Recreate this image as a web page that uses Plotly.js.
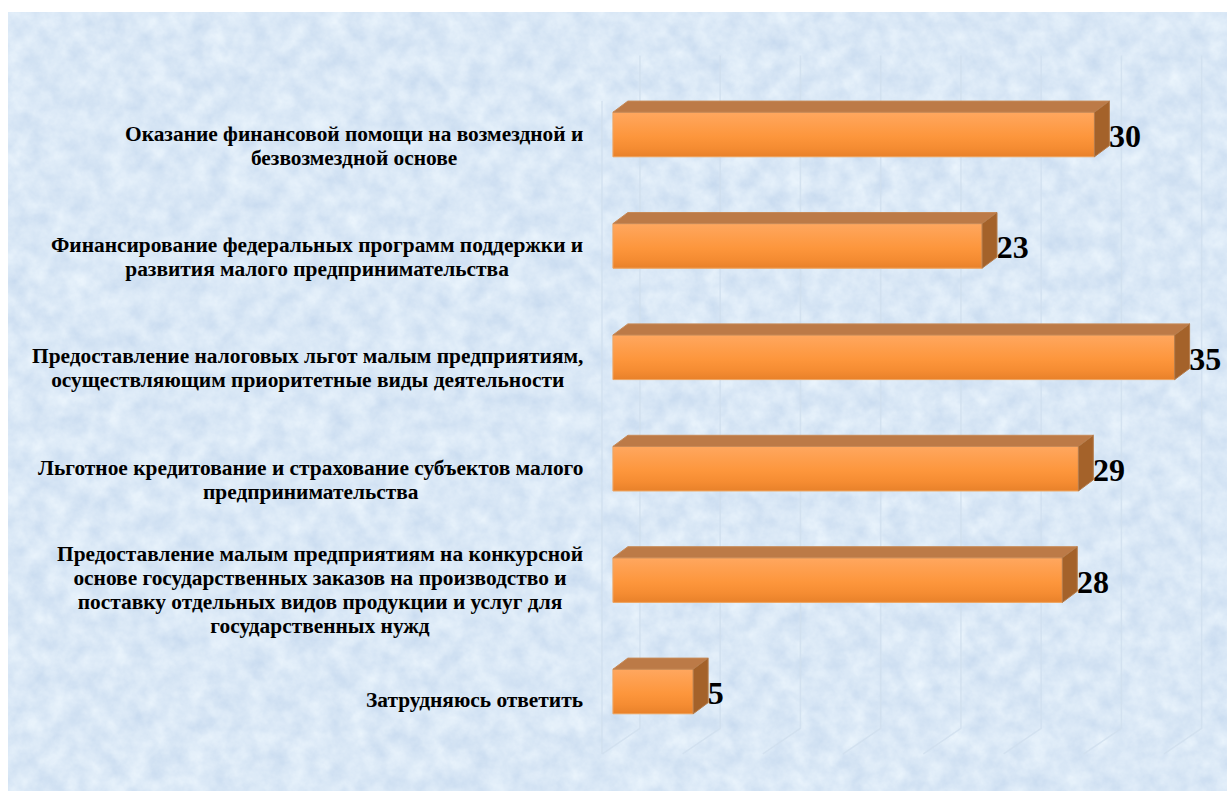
<!DOCTYPE html>
<html>
<head>
<meta charset="utf-8">
<script src="https://cdn.plot.ly/plotly-3.0.1.min.js"></script>
<style>
html,body{margin:0;padding:0;background:#fff;overflow:hidden}
#bg{position:absolute;left:8px;top:12px;width:1219px;height:779px}
#chart{position:absolute;left:0;top:0;width:1227px;height:791px}
</style>
</head>
<body>
<svg id="bg" xmlns="http://www.w3.org/2000/svg">
  <defs>
    <filter id="tex" x="0" y="0" width="100%" height="100%" color-interpolation-filters="sRGB">
      <feTurbulence type="fractalNoise" baseFrequency="0.05" numOctaves="5" seed="7"/>
      <feColorMatrix type="matrix" values="0.16 0 0 0 0.775  0.12 0 0 0 0.85  0.06 0 0 0 0.935  0 0 0 0 1"/>
    </filter>
  </defs>
  <rect width="100%" height="100%" filter="url(#tex)"/>
</svg>
<div id="chart"></div>
<script>
const categories = [
  "Оказание финансовой помощи на возмездной и<br>безвозмездной основе",
  "Финансирование федеральных программ поддержки и<br>развития малого предпринимательства",
  "Предоставление налоговых льгот малым предприятиям,<br>осуществляющим приоритетные виды деятельности",
  "Льготное кредитование и страхование субъектов малого<br>предпринимательства",
  "Предоставление малым предприятиям на конкурсной<br>основе государственных заказов на производство и<br>поставку отдельных видов продукции и услуг для<br>государственных нужд",
  "Затрудняюсь ответить"
];
const values = [30, 23, 35, 29, 28, 5];
const gridTicks = [0, 5, 10, 15, 20, 25, 30, 35];

const HALF = 0.2, DX = 0.93, DY = 0.1;
const positions = categories.map((c, i) => i);
const labelShift = {1:-8, 2:-11, 4:-9.5};

const traces = [];

// faint 3D gridlines
const gx = [], gy = [];
gridTicks.forEach(t => {
  gx.push(t + 1.68, t + 1.68, t - 0.66, null);
  gy.push(-0.71, 5.33, 5.56, null);
});
gx.push(-0.68, -0.68, null);
gy.push(-0.3, 5.56, null);
traces.push({type:'scatter', mode:'lines', x:gx, y:gy,
  line:{color:'rgba(208,222,238,0.8)', width:1.5}, hoverinfo:'skip', showlegend:false});

// base bars
traces.push({type:'bar', orientation:'h', x:values, y:positions, width:0.4,
  marker:{color:'#fc9539', line:{width:0}}, hoverinfo:'skip', showlegend:false});

// gradient front faces
values.forEach((v, i) => {
  traces.push({type:'scatter', mode:'lines', fill:'toself',
    x:[0, v, v, 0, 0], y:[i-HALF, i-HALF, i+HALF, i+HALF, i-HALF],
    line:{color:'#eda766', width:1},
    fillgradient:{type:'vertical', start:i-HALF, stop:i+HALF,
      colorscale:[[0,'#ffa75f'],[0.55,'#fd963c'],[0.8,'#f58c32'],[1,'#e8812a']]},
    hoverinfo:'skip', showlegend:false});
});

// top and side faces
const tx = [], ty = [], sx = [], sy = [];
values.forEach((v, i) => {
  tx.push(0, v, v + DX, DX, 0, null);
  ty.push(i-HALF, i-HALF, i-HALF-DY, i-HALF-DY, i-HALF, null);
  sx.push(v, v + DX, v + DX, v, v, null);
  sy.push(i-HALF, i-HALF-DY, i+HALF-DY, i+HALF, i-HALF, null);
});
traces.push({type:'scatter', mode:'lines', fill:'toself', x:tx, y:ty,
  fillcolor:'#bc7a47', line:{color:'#c78a58', width:1}, hoverinfo:'skip', showlegend:false});
traces.push({type:'scatter', mode:'lines', fill:'toself', x:sx, y:sy,
  fillcolor:'#a4622a', line:{color:'#b57c4c', width:1}, hoverinfo:'skip', showlegend:false});

// value labels
traces.push({type:'scatter', mode:'text',
  x:values.map(v => v + DX - 0.02), y:positions.map(p => p + 0.04),
  text:values.map(String), textposition:'middle right',
  textfont:{family:'"Liberation Serif", serif', size:32, color:'#000', weight:700},
  hoverinfo:'skip', showlegend:false});

const annotations = categories.map((c, i) => ({
  x:-1.81, y:i, xref:'x', yref:'y', xanchor:'right', yanchor:'middle', align:'center',
  yshift:labelShift[c.split('<br>').length], showarrow:false, borderpad:0,
  text:'<b><span style="font-size:21.4px">' + c.split('<br>').join('</span></b><br><b><span style="font-size:21.4px">') + '</span></b>',
  font:{family:'"Liberation Serif", serif', size:18.4, color:'#000'}
}));

const layout = {
  width:1227, height:791,
  margin:{l:0, r:0, t:0, b:0, pad:0},
  paper_bgcolor:'rgba(0,0,0,0)', plot_bgcolor:'rgba(0,0,0,0)',
  barmode:'overlay', showlegend:false, hovermode:false,
  xaxis:{range:[-38.19, 38.26], visible:false, fixedrange:true},
  yaxis:{range:[5.893, -1.2074], visible:false, fixedrange:true},
  annotations:annotations
};
Plotly.newPlot('chart', traces, layout, {displayModeBar:false, staticPlot:true});
</script>
</body>
</html>
